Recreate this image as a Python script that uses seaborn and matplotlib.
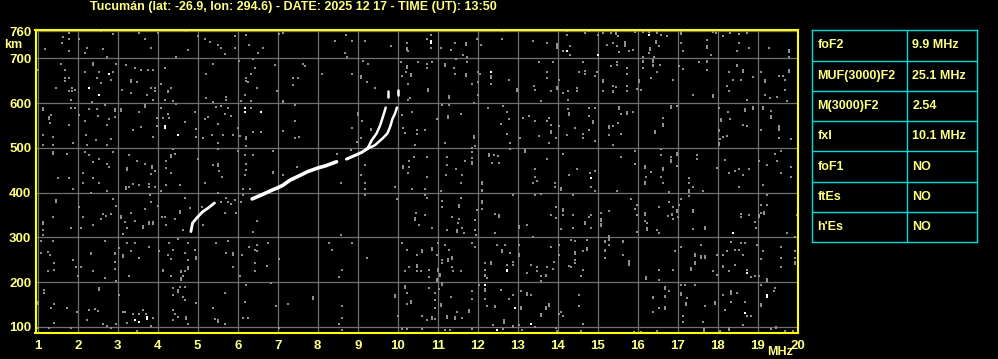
import matplotlib
matplotlib.use("Agg")
import matplotlib.pyplot as plt
from matplotlib.path import Path
import numpy as np
import pandas as pd
import seaborn as sns

# ---------------- data ----------------
title = "Tucumán (lat: -26.9, lon: 294.6) - DATE: 2025 12 17 - TIME (UT): 13:50"
freq_ticks = list(range(1, 21))
height_ticks = [100, 200, 300, 400, 500, 600, 700, 760]
param_names = ["foF2", "MUF(3000)F2", "M(3000)F2", "fxI", "foF1", "ftEs", "h'Es"]
param_values = ["9.9 MHz", "25.1 MHz", "2.54", "10.1 MHz", "NO", "NO", "NO"]

# echo trace (frequency MHz, virtual height km)
trace_low_f = [4.83, 4.87, 4.99, 5.12, 5.25, 5.42]
trace_low_h = [313, 332, 345, 357, 365, 377]
trace_main_f = [6.36, 6.60, 6.79, 7.00, 7.12, 7.31, 7.50, 7.75, 8.00, 8.20, 8.47]
trace_main_h = [386, 395, 403, 411, 416, 428, 436, 447, 455, 460, 469]
trace_mid_f = [8.72, 8.90, 9.10, 9.24]
trace_mid_h = [475, 482, 490, 498]
trace_o_f = [9.24, 9.35, 9.47, 9.56, 9.64, 9.70]
trace_o_h = [498, 517, 532, 550, 572, 590]
trace_o_top_f = [9.77, 9.77]
trace_o_top_h = [613, 628]
trace_x_f = [9.24, 9.43, 9.62, 9.74, 9.81, 9.87, 9.93, 9.98]
trace_x_h = [498, 506, 521, 532, 547, 565, 576, 590]
trace_x_top_f = [10.02, 10.02]
trace_x_top_h = [617, 630]

# isolated strong (white) echoes
white_pts = [(2.27,633),(2.52,617),(2.77,665),(4.17,548),(4.17,544),(4.52,528),(6.17,589),(6.17,581),
             (6.58,580),(10.82,734),(10.82,738),(12.32,670),(14.22,717),(15.01,707),(16.28,752),(14.82,433),
             (3.44,116),(3.52,111),(3.72,118),(3.72,122),(12.72,224),(12.72,228),(12.18,193),(12.93,142),
             (13.32,107),(12.47,94),(18.39,310),(18.72,220),(18.67,131),(19.22,168),(19.22,172)]

# background noise echoes, 1-7 MHz
noise_a = [(1.62,747),(1.77,756),(1.61,735),(1.77,743),(1.19,721),(1.77,717),(2.22,724),(2.19,712),(2.62,721),(2.58,761),(2.87,754),(2.74,703),(2.02,743),(3.52,756),(3.67,743),(3.83,724),(4.02,756),(4.72,761),(4.77,719),(4.46,702),(5.02,749),(5.17,743),(5.31,737),(5.52,730),(5.58,722),(5.69,710),(5.92,724),(5.94,749),(6.22,752),(6.29,730),(6.62,724),(6.52,712),(7.04,754),(7.14,756),
(1.58,687),(1.69,673),(1.69,650),(1.69,656),(1.02,675),(1.47,633),(1.86,626),(1.86,633),(1.79,626),(1.92,630),(1.77,655),(2.37,689),(2.37,684),(2.19,670),(2.52,670),(2.48,655),(2.59,645),(2.82,652),(2.87,670),(2.96,687),(2.36,602),(1.82,608),(3.21,684),(3.42,678),(3.59,675),(3.75,675),(3.89,675),(3.33,647),(3.33,652),(3.48,648),(3.11,630),(3.33,622),(3.73,617),(3.83,633),(3.92,628),(3.92,633),(3.89,608),(4.08,643),(4.17,678),(4.33,633),(4.27,624),(4.27,628),(4.19,608),(4.37,604),(5.22,665),(5.37,687),(5.72,613),(5.72,608),(5.22,611),(5.39,602),(6.04,695),(6.39,698),(6.44,678),(6.33,665),(6.22,650),(6.22,655),(6.27,647),(6.47,633),(6.19,618),(6.08,604),(6.33,604),(6.94,684),(6.97,626),(7.14,602),
(1.12,584),(1.12,588),(1.33,574),(1.29,565),(1.29,569),(1.31,556),(1.12,528),(1.37,524),(1.12,506),(1.37,506),(1.83,590),(1.94,590),(1.77,550),(1.87,510),(2.04,573),(2.27,586),(2.47,586),(2.69,595),(2.50,571),(2.77,564),(2.92,569),(2.92,586),(2.92,582),(2.17,559),(2.21,528),(2.46,517),(2.72,550),(2.82,519),(2.72,506),(2.22,506),(3.08,586),(3.08,582),(3.52,581),(3.67,595),(3.67,591),(3.37,541),(3.59,547),(3.87,524),(3.97,567),(3.97,549),(4.12,567),(4.27,576),(4.29,567),(4.08,589),(4.46,598),(4.67,558),(4.94,581),(4.97,543),(4.97,524),(5.17,564),(5.27,569),(5.46,591),(5.58,593),(5.52,554),(5.36,528),(5.14,522),(5.50,510),(5.62,528),(5.69,576),(5.83,571),(5.77,589),(5.87,528),(6.00,544),(6.22,524),(6.22,520),(6.06,526),(6.37,535),(6.58,535),(6.33,589),(7.12,537),(7.14,604),(6.22,504),
(1.37,490),(1.37,486),(1.72,487),(2.19,491),(2.29,485),(2.39,469),(2.52,475),(2.72,465),(2.77,458),(2.89,491),(2.12,443),(1.52,433),(1.77,433),(2.37,433),(3.27,484),(3.22,450),(3.22,454),(3.47,470),(3.67,465),(3.86,455),(3.86,459),(3.83,441),(3.92,448),(4.22,470),(4.33,484),(4.33,480),(4.37,497),(4.44,487),(4.33,443),(4.22,454),(5.00,475),(5.39,461),(5.52,463),(5.52,459),(5.54,448),(5.50,497),(5.61,435),(6.02,493),(6.19,484),(6.39,484),(6.22,465),(6.22,450),(6.17,439),(6.89,493),(6.89,447),(6.89,443),(7.12,439),
(1.87,409),(2.12,421),(2.33,399),(2.52,421),(2.72,404),(3.21,409),(3.21,413),(3.27,412),(3.39,419),(3.52,416),(3.79,412),(3.94,412),(3.77,419),(4.08,404),(4.22,416),(4.56,416),(5.19,421),(5.52,399),(6.14,409),(6.31,409),
(1.47,379),(1.47,383),(2.02,367),(1.37,345),(1.12,330),(1.12,334),(1.12,317),(1.12,306),(1.83,322),(2.12,345),(2.08,321),(2.37,328),(2.62,352),(2.58,342),(2.71,347),(2.83,352),(2.96,371),(2.89,386),(3.08,343),(3.08,347),(3.19,334),(3.22,322),(3.14,307),(3.33,354),(3.44,337),(3.64,321),(3.64,325),(3.69,364),(3.79,330),(3.79,334),(3.87,330),(3.87,334),(3.83,379),(3.81,394),(4.02,371),(4.11,345),(4.19,345),(4.22,328),(4.44,342),(4.56,354),(4.56,358),(4.64,317),(4.67,389),(4.81,365),(5.11,367),(5.12,328),(5.58,380),(5.71,389),(5.75,380),(5.83,374),(5.94,384),(5.96,354),(5.69,354),(6.12,395),(6.08,380),(6.47,336),(6.37,313),(4.52,297),
(1.08,291),(1.37,291),(1.08,265),(1.25,267),(1.31,260),(1.42,242),(1.25,225),(1.42,227),(1.87,250),(1.96,233),(2.00,213),(2.08,233),(2.33,262),(2.33,266),(2.37,225),(2.69,292),(2.67,209),(2.94,262),(2.94,266),(2.92,246),(2.94,230),(2.96,203),(3.04,277),(3.14,257),(3.14,261),(3.22,287),(3.44,287),(3.33,269),(3.54,255),(3.29,213),(3.77,278),(4.04,269),(4.12,224),(4.12,228),(4.29,287),(4.37,272),(4.33,252),(4.27,260),(4.33,215),(4.67,265),(4.58,222),(4.58,226),(4.69,225),(4.77,230),(4.77,234),(4.62,215),(4.77,250),(4.75,287),(4.58,205),(4.58,209),(4.97,252),(4.97,256),(4.94,272),(5.47,287),(5.77,291),(5.87,261),(5.87,265),(5.71,265),(5.87,233),(6.06,213),(6.11,260),(6.29,278),(6.42,272),(6.47,269),(6.47,284),(6.42,242),(6.44,224),(6.72,237),(6.77,287),(7.04,252),
(1.17,183),(1.17,175),(1.02,151),(1.02,155),(1.33,142),(1.42,151),(1.72,142),(1.42,108),(1.02,97),(1.29,97),(1.83,97),(1.97,133),(2.27,138),(2.44,140),(2.50,136),(2.22,115),(2.52,183),(2.52,187),(2.64,106),(2.72,103),(2.83,97),(2.96,106),(3.04,171),(3.14,133),(3.19,133),(3.22,110),(3.37,129),(3.52,129),(3.62,138),(3.71,129),(3.87,121),(3.83,103),(3.47,91),(4.39,188),(4.50,183),(4.50,179),(4.56,190),(4.67,190),(4.37,172),(4.62,168),(4.67,161),(4.39,138),(4.44,129),(4.52,123),(4.39,116),(4.72,118),(4.72,122),(4.77,106),(4.97,153),(5.37,142),(5.44,118),(5.52,111),(5.52,115),(5.67,106),(5.69,175),(6.17,155),(6.12,120),(6.27,120),(6.22,193),(6.83,198),(6.96,148),(7.04,97),(7.27,151)]

# background noise echoes, 7-13.6 MHz
noise_b = [(8.71,752),(8.43,739),(8.87,739),(9.18,739),(8.68,712),(8.74,702),(9.82,727),(10.22,734),(10.24,719),(10.24,723),(10.27,717),(10.72,743),(10.82,752),(10.82,722),(11.07,722),(11.43,734),(11.71,730),(11.71,734),(11.32,719),(11.64,707),(11.72,704),(11.97,743),(12.07,730),(12.62,761),(12.62,743),(13.37,739),
(7.64,687),(7.68,682),(8.12,665),(7.37,655),(7.52,655),(7.37,641),(8.87,665),(9.07,660),(9.07,656),(9.14,695),(9.27,687),(9.22,648),(9.43,633),(10.07,692),(10.22,682),(10.22,678),(10.21,670),(10.32,665),(10.32,661),(10.27,643),(10.10,661),(10.51,692),(10.72,687),(10.74,678),(10.85,692),(10.77,628),(10.77,632),(11.18,687),(11.18,683),(11.41,678),(11.43,665),(11.46,698),(11.72,692),(11.71,661),(11.71,665),(11.87,643),(12.02,669),(12.06,665),(12.02,648),(12.32,660),(12.32,656),(12.32,643),(12.79,652),(12.99,628),(12.99,632),(13.41,638),(13.43,630),(13.54,692),(10.31,611),(10.27,606),(11.29,611),(11.29,615),(12.02,617),(13.57,604),
(7.43,595),(7.43,559),(7.43,521),(7.54,524),(9.02,574),(9.02,578),(9.12,561),(8.87,544),(9.32,539),(9.32,543),(9.07,521),(8.97,513),(10.12,573),(10.37,581),(10.97,564),(10.14,544),(10.18,534),(10.49,541),(10.68,541),(10.47,532),(11.12,595),(11.29,595),(11.27,571),(11.27,567),(11.57,576),(11.91,601),(11.91,522),(11.91,526),(12.27,589),(12.64,593),(12.72,580),(12.79,564),(12.57,554),(12.74,530),(13.12,567),(13.27,571),(13.43,559),(13.54,527),(13.06,522),(10.43,506),(11.18,510),(11.93,504),
(7.47,458),(8.47,487),(8.82,495),(9.18,461),(9.07,439),(10.14,455),(10.14,459),(10.29,470),(10.29,458),(10.27,443),(10.41,480),(10.74,480),(10.74,435),(11.22,480),(11.22,461),(11.21,439),(11.46,452),(11.62,439),(11.85,500),(11.85,490),(11.85,478),(11.85,465),(11.85,469),(11.68,470),(12.29,482),(12.29,486),(12.41,485),(12.51,482),(12.54,467),(12.37,467),(12.82,510),(12.82,498),(13.18,495),(13.18,491),(13.43,452),(13.43,435),
(8.57,421),(9.18,421),(9.18,409),(9.93,412),(10.37,409),(10.68,409),(11.07,403),(11.57,421),(12.12,419),(12.12,423),(12.12,403),(12.12,407),(13.37,421),(13.49,425),
(9.18,394),(9.97,386),(10.68,394),(10.72,389),(11.12,381),(11.12,367),(11.57,389),(11.54,369),(11.54,373),(12.12,377),(12.12,381),(12.12,364),(11.97,362),(12.87,394),(13.43,395),(13.57,397),(10.46,354),(10.43,340),(10.43,344),(10.68,349),(10.54,328),(10.87,322),(11.37,345),(11.54,342),(11.52,332),(11.62,322),(11.49,312),(11.49,316),(11.66,310),(11.24,317),(11.93,340),(11.93,317),(11.95,306),(12.43,352),(12.54,345),(12.54,349),(12.43,310),(13.04,321),(13.04,325),(13.22,328),(13.37,300),(8.57,305),
(8.29,287),(8.37,272),(8.87,287),(9.24,255),(8.62,228),(8.54,211),(10.12,287),(10.22,272),(10.47,260),(10.62,267),(10.62,271),(10.87,272),(10.87,276),(10.97,260),(11.02,287),(11.18,282),(11.29,272),(11.12,250),(11.12,243),(11.27,248),(11.27,252),(11.37,252),(11.37,256),(11.37,235),(11.39,224),(11.57,224),(10.18,224),(10.29,235),(10.47,235),(10.47,239),(10.47,224),(10.57,224),(10.79,228),(10.79,211),(11.02,226),(11.02,230),(10.97,203),(10.97,207),(11.06,214),(11.06,218),(11.87,287),(11.93,278),(12.18,243),(12.18,228),(12.18,213),(12.18,217),(12.24,209),(12.32,241),(12.32,245),(12.49,282),(12.68,282),(12.62,267),(12.62,271),(12.82,265),(12.74,238),(12.87,246),(12.87,238),(13.02,282),(13.02,258),(13.02,262),(13.22,221),(13.32,238),(13.47,233),(13.49,224),(13.57,215),(13.57,203),
(7.87,163),(7.87,166),(8.62,146),(8.62,120),(8.54,107),(8.62,94),(9.93,168),(9.93,172),(10.02,124),(10.18,188),(10.18,192),(10.22,176),(10.24,151),(10.32,153),(10.32,157),(10.60,124),(10.72,116),(10.79,188),(10.87,118),(10.87,122),(10.93,118),(10.93,176),(10.93,161),(10.93,142),(11.04,185),(11.10,194),(11.10,198),(11.07,148),(11.07,152),(11.22,121),(11.22,125),(11.32,166),(11.43,118),(11.43,122),(11.47,133),(11.60,121),(11.79,133),(11.79,137),(11.87,180),(11.87,163),(12.04,193),(12.18,185),(12.18,181),(12.18,163),(12.22,146),(12.43,144),(12.43,148),(12.57,183),(12.79,163),(12.87,171),(13.07,181),(13.22,172),(13.22,176),(13.32,171),(13.07,141),(13.07,145),(12.66,112),(12.66,116),(12.66,108),(12.87,99),(12.87,103),(13.02,105),(13.43,101),(13.57,124),(13.57,128),(12.39,105),
(10.10,95),(10.22,95),(10.60,95),(11.18,93),(11.31,93),(11.85,95),(12.64,95),(13.10,94)]

# background noise echoes, 13.6-20 MHz
noise_c = [(14.22,761),(14.22,752),(13.99,728),(13.99,732),(13.99,724),(13.72,735),(14.12,717),(14.31,727),(14.31,707),(14.67,756),(14.78,761),(15.01,752),(15.14,756),(15.32,756),(15.45,754),(15.45,758),(15.51,749),(15.24,730),(15.37,734),(15.47,727),(15.67,732),(15.67,728),(15.67,736),(15.53,715),(15.78,717),(15.89,719),(15.92,759),(16.14,759),(16.28,759),(16.47,756),(16.47,760),(16.59,752),(16.72,749),(16.45,735),(16.45,739),(16.53,727),(16.31,722),(16.31,718),(16.28,712),(16.14,702),(16.41,702),(17.07,759),(17.07,755),(17.07,734),(17.12,717),(17.72,741),(17.72,728),(17.72,724),(17.89,759),(17.95,756),(18.14,749),(18.31,756),(18.53,754),(18.72,756),(18.53,734),(18.78,724),(18.47,717),(17.84,707),(19.28,722),(19.78,715),(19.78,719),(19.78,702),
(13.89,692),(13.72,670),(13.72,655),(14.03,652),(13.82,628),(13.97,632),(13.97,636),(14.14,623),(14.26,626),(14.26,608),(14.47,633),(14.47,626),(14.53,670),(14.64,692),(14.67,672),(14.67,665),(14.92,660),(14.97,670),(15.14,648),(15.14,652),(15.12,628),(15.34,682),(15.47,692),(15.47,684),(15.37,638),(15.45,635),(15.39,624),(15.39,628),(15.72,678),(15.72,665),(15.72,638),(15.72,626),(16.03,647),(16.03,651),(15.97,632),(16.07,630),(16.12,691),(16.12,695),(16.14,678),(16.37,692),(16.37,696),(16.37,682),(16.37,686),(16.56,684),(16.34,655),(16.47,669),(16.89,652),(17.03,682),(17.12,676),(17.53,692),(17.72,691),(17.72,695),(17.72,675),(17.39,617),(17.89,613),(17.89,617),(18.28,670),(18.47,682),(18.47,686),(18.64,669),(18.64,673),(18.37,652),(18.57,652),(18.22,639),(18.28,626),(18.72,608),(18.89,658),(19.09,670),(19.17,648),(19.17,652),(19.17,617),(19.53,661),(19.64,661),(19.67,652),(19.78,670),(19.78,674),(19.67,630),(19.31,611),(19.47,613),(19.72,604),
(13.72,559),(13.82,550),(13.82,534),(13.82,538),(13.95,521),(13.78,510),(14.03,549),(14.28,574),(14.28,578),(14.26,587),(14.22,528),(14.42,544),(14.64,532),(14.64,522),(14.78,541),(14.78,589),(14.92,589),(14.78,571),(14.89,556),(14.89,560),(14.92,515),(15.28,544),(15.28,548),(15.39,549),(15.28,528),(15.53,587),(15.53,591),(15.59,576),(15.72,576),(15.72,580),(15.89,581),(15.51,556),(15.59,530),(15.39,506),(16.42,534),(16.42,538),(16.64,567),(16.64,549),(16.64,553),(16.84,593),(16.84,589),(16.97,593),(18.03,589),(18.26,581),(18.31,564),(18.07,561),(18.07,565),(18.67,583),(18.67,587),(18.89,587),(18.89,591),(19.14,587),(19.14,591),(19.34,583),(19.34,571),(19.34,567),(18.64,550),(18.72,549),(18.03,537),(18.03,541),(18.14,524),(18.22,527),(18.06,519),(18.03,506),(18.03,510),(19.09,541),(19.53,544),(19.53,548),(19.53,540),(19.53,521),(19.82,519),(13.78,567),
(13.72,475),(14.12,487),(14.28,439),(14.47,452),(14.81,443),(14.92,448),(15.59,480),(15.92,493),(15.92,465),(16.17,455),(16.17,459),(16.20,435),(16.34,447),(16.59,497),(16.59,484),(16.64,450),(16.64,454),(16.59,435),(16.82,480),(16.82,469),(16.82,473),(16.97,484),(16.97,488),(16.97,460),(17.28,433),(17.47,484),(17.47,475),(17.97,455),(18.17,472),(18.28,445),(18.42,448),(18.53,452),(18.64,439),(18.78,452),(19.03,470),(19.22,461),(19.42,487),(19.57,493),(19.49,470),(19.59,443),(19.82,458),(19.82,435),
(13.92,421),(13.92,412),(14.07,407),(14.07,411),(14.82,412),(14.92,404),(15.47,403),(16.17,419),(16.17,423),(16.62,421),(16.78,401),(17.28,421),(17.37,412),(17.28,401),(17.28,405),(17.64,404),(18.53,412),(19.12,416),
(13.95,367),(13.82,351),(13.95,343),(14.12,360),(14.12,364),(14.12,351),(14.39,394),(14.39,351),(14.39,322),(14.07,319),(14.67,330),(14.67,334),(14.78,345),(14.82,351),(14.82,322),(15.07,354),(15.09,337),(15.09,341),(15.09,325),(15.09,329),(15.28,358),(15.28,299),(15.28,303),(15.28,295),(15.84,386),(15.92,364),(15.97,372),(15.97,351),(15.97,313),(16.17,351),(16.17,355),(16.17,337),(16.22,332),(16.22,317),(16.22,321),(16.47,317),(16.53,310),(16.53,367),(16.78,380),(16.89,367),(16.76,347),(16.86,349),(16.86,353),(16.89,342),(16.97,357),(16.97,361),(17.03,372),(17.01,345),(17.09,386),(17.28,392),(17.39,357),(17.39,361),(17.37,319),(17.67,319),(17.67,323),(18.57,352),(18.57,345),(18.78,349),(19.09,372),(19.22,372),(19.09,354),(19.03,345),(19.03,349),(19.16,352),(19.16,356),(18.92,334),(18.95,322),(19.22,394),(19.72,310),(19.97,349),(19.92,300),
(13.82,278),(14.03,284),(14.03,261),(13.91,246),(13.72,233),(13.89,230),(13.70,213),(13.70,217),(14.32,295),(14.42,291),(14.42,263),(14.42,267),(14.42,250),(14.42,243),(14.28,237),(14.32,233),(14.64,269),(14.72,272),(14.72,276),(14.64,228),(14.57,215),(14.72,295),(15.17,289),(15.17,293),(15.17,269),(15.17,273),(15.17,255),(15.28,284),(15.64,289),(15.64,293),(15.64,260),(15.78,243),(15.78,247),(15.78,239),(16.20,211),(16.20,207),(16.53,228),(16.53,206),(16.89,228),(16.92,269),(17.07,278),(17.42,258),(17.42,262),(17.42,241),(17.42,245),(17.57,284),(17.57,254),(17.57,258),(17.67,254),(17.67,258),(17.32,228),(17.32,232),(17.89,224),(17.97,217),(17.97,260),(18.14,260),(18.22,269),(18.32,290),(18.42,272),(18.53,272),(18.57,287),(18.67,287),(18.64,260),(18.14,233),(18.14,237),(18.28,224),(18.42,239),(18.72,228),(18.84,211),(18.92,215),(19.03,215),(18.97,284),(19.14,269),(19.09,252),(19.22,203),(19.22,207),(19.57,278),(19.57,255),(19.57,233),(19.92,269),(19.92,255),(19.92,241),(19.92,245),
(13.78,148),(13.78,152),(13.70,144),(13.70,140),(14.07,133),(14.03,129),(14.12,124),(14.53,171),(14.53,146),(14.64,107),(13.95,98),(13.99,92),(14.57,90),(16.37,165),(16.37,168),(16.53,142),(16.67,185),(16.67,189),(16.67,166),(16.67,170),(16.67,141),(16.67,145),(16.78,181),(16.39,133),(17.07,193),(17.17,193),(17.07,171),(17.07,175),(17.22,165),(17.20,149),(17.20,153),(17.42,193),(17.14,124),(17.14,111),(17.67,146),(17.64,111),(17.66,92),(17.66,96),(17.92,151),(17.92,155),(18.14,171),(18.32,176),(18.32,180),(18.34,173),(18.47,176),(18.32,156),(18.17,139),(18.67,156),(18.82,124),(18.64,104),(18.72,124),(19.07,148),(19.07,152),(19.09,193),(19.22,168),(19.41,181),(19.42,188),(18.28,94),(18.28,98),(18.06,92),(19.32,96),(19.45,97),(19.45,101),(19.67,92),(19.87,92),(16.49,92),(15.91,89),(16.07,89)]

# ---------------- styling ----------------
sns.set_theme(style="dark")
plt.rcParams["font.family"] = ["Liberation Sans", "DejaVu Sans"]
plt.rcParams["font.weight"] = "bold"
TXT = "#ffff80"
YEL = "#ffff00"
CYAN = "#00dede"
GRID = "#707070"
NOISE = "#909090"

W, H = 998, 359
fig = plt.figure(figsize=(W / 100, H / 100), dpi=100, facecolor="black")
ax = fig.add_axes([35.5 / W, 1 - 333 / H, (797.7 - 35.5) / W, (333 - 29.7) / H])
ax.set_facecolor("black")

noise_df = pd.DataFrame(noise_a + noise_b + noise_c, columns=["freq", "height"])
white_df = pd.DataFrame(white_pts, columns=["freq", "height"])

rect = Path([(-1, -1.2), (1, -1.2), (1, 1.2), (-1, 1.2), (-1, -1.2)],
            [Path.MOVETO, Path.LINETO, Path.LINETO, Path.LINETO, Path.CLOSEPOLY])

sns.scatterplot(data=noise_df, x="freq", y="height", ax=ax, color=NOISE,
                marker=rect, s=3.6, linewidth=0, legend=False, zorder=3)
sns.scatterplot(data=white_df, x="freq", y="height", ax=ax, color="white",
                marker=rect, s=3.6, linewidth=0, legend=False, zorder=4)

segments = [
    (trace_low_f, trace_low_h, 2.0),
    (trace_main_f, trace_main_h, 2.6),
    (trace_mid_f, trace_mid_h, 2.2),
    (trace_o_f, trace_o_h, 1.8),
    (trace_o_top_f, trace_o_top_h, 1.8),
    (trace_x_f, trace_x_h, 1.8),
    (trace_x_top_f, trace_x_top_h, 1.8),
]
for fx, hy, lw in segments:
    sns.lineplot(x=fx, y=hy, ax=ax, sort=False, estimator=None, color="white",
                 linewidth=lw, zorder=5, legend=False)

ax.set_xlim(0.945, 20.0)
ax.set_ylim(86.6, 763.9)
ax.set_xticks(freq_ticks)
ax.set_xticklabels([str(v) for v in freq_ticks])
ax.set_yticks(height_ticks)
ax.set_yticklabels([str(v) for v in height_ticks])
ax.grid(True, color=GRID, linewidth=0.9)
ax.set_axisbelow(True)
ax.set_xlabel("")
ax.set_ylabel("")
ax.tick_params(axis="both", length=0, labelcolor=TXT, labelsize=9.5)
ax.tick_params(axis="x", pad=5)
ax.tick_params(axis="y", pad=3)
for lab in ax.get_xticklabels() + ax.get_yticklabels():
    lab.set_fontweight("bold")
for sp in ax.spines.values():
    sp.set_visible(True)
    sp.set_color(YEL)
    sp.set_linewidth(1.5)
    sp.set_zorder(10)

fig.text(293.5 / W, 1 - 7 / H, title, color=TXT, fontsize=9, fontweight="bold",
         ha="center", va="center")
fig.text(13 / W, 1 - 45 / H, "km", color=TXT, fontsize=9, fontweight="bold",
         ha="center", va="center")
fig.text(780 / W, 1 - 352 / H, "MHz", color=TXT, fontsize=9, fontweight="bold",
         ha="center", va="center")

# parameter table
tx0, tx1, ty0, ty1 = 812.3, 977.3, 30.3, 242.3
tab = fig.add_axes([tx0 / W, 1 - ty1 / H, (tx1 - tx0) / W, (ty1 - ty0) / H])
tab.set_facecolor("black")
tab.set_xlim(0, 1)
tab.set_ylim(len(param_names), 0)
tab.set_xticks([]); tab.set_yticks([])
for sp in tab.spines.values():
    sp.set_color(CYAN); sp.set_linewidth(1.0)
tab.hlines(range(1, len(param_names)), 0, 1, color=CYAN, linewidth=1.0)
tab.vlines(0.5758, 0, len(param_names), color=CYAN, linewidth=1.0)
for i, (nm, val) in enumerate(zip(param_names, param_values)):
    tab.text(0.03, i + 0.5, nm, color=TXT, fontsize=9, fontweight="bold", va="center", ha="left")
    tab.text(0.606, i + 0.5, val, color=TXT, fontsize=9, fontweight="bold", va="center", ha="left")

fig.savefig("out.png", dpi=100, facecolor="black")
